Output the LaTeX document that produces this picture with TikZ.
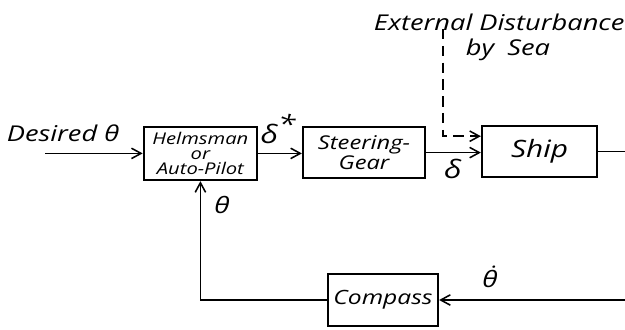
\documentclass[tikz,border=0pt]{standalone}
\usepackage{fontspec}
\setmainfont{Open Sans}[FakeStretch=1.25]
\usepackage{tikz}
\usetikzlibrary{arrows.meta,positioning,calc}

\tikzset{
    blockbox/.style={draw, line width=1.6pt, align=center, inner sep=1pt},
    sigline/.style={line width=1.1pt},
    sigarrow/.style={sigline, -{Straight Barb[length=2.4mm,width=2.6mm]}},
    lbl/.style={font=\itshape\fontsize{13}{14}\selectfont}
}

\begin{document}
\begin{tikzpicture}
    \useasboundingbox (0,0) rectangle (15.625,8.225);

    % Blocks of the steering loop
    \node[blockbox, minimum width=2.83cm, minimum height=1.33cm, font=\itshape\fontsize{11.5}{10.5}\selectfont] (helm) at (5.01,4.39) {Helmsman\\or\\Auto-Pilot};
    \node[blockbox, minimum width=3.05cm, minimum height=1.28cm, font=\itshape\fontsize{13.5}{14}\selectfont] (gear) at (9.1,4.41) {Steering-\\Gear};
    \node[blockbox, minimum width=2.88cm, minimum height=1.28cm, font=\itshape\fontsize{17}{17}\selectfont] (ship) at (13.49,4.44) {Ship};
    \node[blockbox, minimum width=2.75cm, minimum height=1.3cm, font=\itshape\fontsize{14}{14}\selectfont] (compass) at (9.575,0.725) {Compass};

    % Free ends
    \coordinate (in) at (1.125,4.39);
    \coordinate (out) at (15.625,4.44);
    \coordinate (fb) at (15.625,0.725);
    \coordinate (dist) at (11.075,7.5);

    % Forward path
    \draw[sigarrow] (in) -- (helm.west);
    \draw[sigarrow] (helm.east) -- (helm.east -| gear.west);
    \draw[sigarrow] (gear.east) -- (gear.east -| ship.west);
    \draw[sigline] (ship.east) -- (out);

    % Feedback path
    \draw[sigarrow] (fb) -- (compass.east);
    \draw[sigarrow] (compass.west) -| (helm.south);

    % Disturbance
    \draw[sigarrow, dash pattern=on 2.6mm off 1.6mm] (dist) |- ($(ship.west)+(0,0.38)$);

    % Labels
    \node[lbl, font=\itshape\fontsize{15.5}{16}\selectfont] (desired) at (1.575,4.9) {Desired θ};
    \node[lbl, font=\itshape\fontsize{18}{18}\selectfont] (dstar) at (6.95,5.0) {δ\raisebox{0.7ex}{*}};
    \node[lbl, font=\itshape\fontsize{18}{18}\selectfont] (delta) at (11.325,4.0) {δ};
    \node[lbl, font=\itshape\fontsize{16}{16}\selectfont] (theta) at (5.55,3.1) {θ};
    \node[lbl, font=\itshape\fontsize{16}{16}\selectfont] (thetadot) at (12.25,1.3) {\.{θ}};
    \node[lbl, font=\itshape\fontsize{15.5}{16}\selectfont] (ext) at (12.48,7.675) {External Disturbance};
    \node[lbl, font=\itshape\fontsize{15.5}{16}\selectfont] (sea) at (12.7,6.975) {by\hspace{0.6em}Sea};
\end{tikzpicture}
\end{document}
